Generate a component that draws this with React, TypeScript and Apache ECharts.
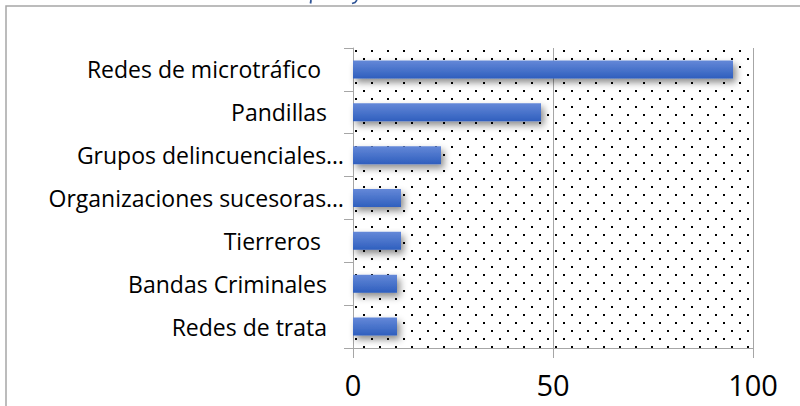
import React, { useEffect, useRef } from "react";
import * as echarts from "echarts";

const categories = [
  "Redes de microtráfico ",
  "Pandillas",
  "Grupos delincuenciales…",
  "Organizaciones sucesoras…",
  "Tierreros ",
  "Bandas Criminales",
  "Redes de trata",
];
const values = [95, 47, 22, 12, 12, 11, 11];
const xMin = 0;
const xMax = 100;
const xStep = 50;

function makeDots(): HTMLCanvasElement {
  const c = document.createElement("canvas");
  c.width = 16;
  c.height = 16;
  const ctx = c.getContext("2d")!;
  ctx.fillStyle = "#000";
  ctx.fillRect(3, 2, 2, 2);
  ctx.fillRect(11, 10, 2, 2);
  return c;
}

export default function App() {
  const ref = useRef<HTMLDivElement>(null);
  useEffect(() => {
    if (!ref.current) return;
    const chart = echarts.init(ref.current, undefined, { renderer: "svg" });
    const font = "Open Sans";
    const fs = 23;
    chart.setOption({
      animation: false,
      backgroundColor: "#ffffff",
      grid: {
        left: 353,
        right: 47,
        top: 48,
        bottom: 58,
        show: true,
        borderWidth: 0,
        backgroundColor: { image: makeDots(), repeat: "repeat" },
      },
      xAxis: {
        type: "value",
        min: xMin,
        max: xMax,
        interval: xStep,
        axisLine: { show: true, lineStyle: { color: "#a6a6a6", width: 1 } },
        axisTick: { show: true, length: 10, lineStyle: { color: "#a6a6a6" } },
        splitLine: { show: true, lineStyle: { color: "#a6a6a6", width: 1 } },
        axisLabel: {
          color: "#000",
          fontFamily: font,
          fontSize: 29,
          margin: 22,
        },
      },
      yAxis: {
        type: "category",
        inverse: true,
        data: categories,
        axisLine: { show: true, lineStyle: { color: "#a6a6a6", width: 1 } },
        axisTick: { show: true, length: 9, lineStyle: { color: "#a6a6a6" } },
        axisLabel: {
          color: "#000",
          fontFamily: font,
          fontSize: fs,
          margin: 9,
          formatter: (v: string) => {
            const t = v.trim();
            if (t.endsWith("…")) return "{e|" + t + "}";
            if (v.endsWith(" ")) return "{t|" + t + "}";
            return "{n|" + t + "}";
          },
          rich: {
            e: { fontFamily: font, fontSize: fs, color: "#000", padding: [0, 0, 0, 0] },
            n: { fontFamily: font, fontSize: fs, color: "#000", padding: [0, 17, 0, 0] },
            t: { fontFamily: font, fontSize: fs, color: "#000", padding: [0, 23, 0, 0] },
          },
        },
      },
      series: [
        {
          type: "bar",
          data: values,
          barWidth: 18,
          itemStyle: {
            color: new echarts.graphic.LinearGradient(0, 0, 0, 1, [
              { offset: 0, color: "#6488d8" },
              { offset: 1, color: "#2f5fbe" },
            ]),
            shadowColor: "rgba(0,0,0,0.45)",
            shadowBlur: 7,
            shadowOffsetX: 3,
            shadowOffsetY: 4,
          },
        },
      ],
      graphic: [
        {
          type: "polyline",
          silent: true,
          shape: { points: [[6, 406], [6, 6], [800, 6]] },
          style: { stroke: "#a6a6a6", lineWidth: 1.5, fill: "none" },
        },
        {
          type: "line",
          silent: true,
          shape: { x1: 311, y1: 0, x2: 310.5, y2: 3.5 },
          style: { stroke: "#2f5496", lineWidth: 1.8 },
        },
        {
          type: "polyline",
          silent: true,
          shape: { points: [[357, 0], [355, 2.5], [352, 3.5]] },
          style: { stroke: "#2f5496", lineWidth: 1.6, fill: "none" },
        },
      ],
    });
    return () => chart.dispose();
  }, []);
  return (
    <div
      ref={ref}
      style={{ position: "fixed", left: 0, top: 0, width: 800, height: 406 }}
    />
  );
}
